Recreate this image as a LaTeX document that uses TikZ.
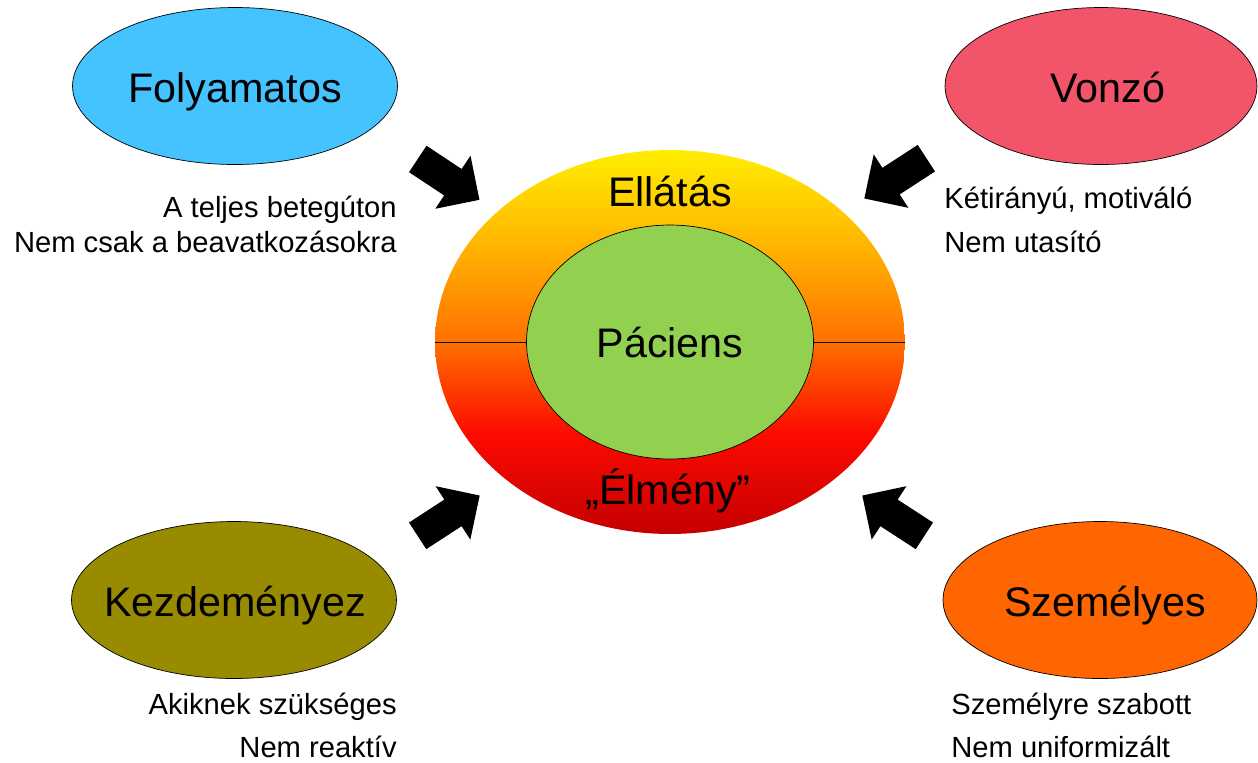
\documentclass[tikz,border=0pt]{standalone}
\usepackage{fontspec}
\setmainfont{Liberation Sans}
\usetikzlibrary{shapes.geometric,shapes.arrows,positioning}
\definecolor{folyblue}{RGB}{69,195,255}
\definecolor{vonzred}{RGB}{242,85,105}
\definecolor{kezdolive}{RGB}{153,139,0}
\definecolor{szemorange}{RGB}{255,102,0}
\definecolor{pacgreen}{RGB}{146,208,80}
\definecolor{ellyellow}{RGB}{255,238,0}
\definecolor{ellamber}{RGB}{255,178,0}
\definecolor{ellorange}{RGB}{255,112,0}
\definecolor{ellred}{RGB}{252,10,0}
\definecolor{elldark}{RGB}{196,0,0}
\pgfdeclareverticalshading{ellgrad}{100bp}{color(0bp)=(elldark); color(25bp)=(elldark); color(38bp)=(ellred); color(50bp)=(ellorange); color(62bp)=(ellamber); color(75bp)=(ellyellow); color(100bp)=(ellyellow)}
\tikzset{%
	bubble/.style   = {draw, ellipse, minimum width = 6.5cm, minimum height = 3.14cm, inner sep = 0pt}, % outer ellipses
	bigtext/.style  = {inner sep = 0pt, font = \fontsize{23.5}{26}\selectfont},
	note/.style     = {inner sep = 0pt, font = \fontsize{16.6}{19}\selectfont},
	bigarrow/.style = {single arrow, fill = black, inner xsep = 0pt, inner ysep = 0.31cm, minimum width = 0pt, minimum height = 1.48cm, single arrow head extend = 0.32cm, single arrow head indent = 0pt},
}

\begin{document}
\begin{tikzpicture}[x = 0.02cm, y = -0.02cm]
		\useasboundingbox (0,0) rectangle (1258,762);
		% center
		\node[ellipse, shade, shading = ellgrad, minimum width = 9.4cm, minimum height = 7.68cm] (ellatas) at (670,342) {};
		\draw (ellatas.west) -- (ellatas.east);
		\node[ellipse, draw, fill = pacgreen, minimum width = 5.74cm, minimum height = 4.68cm, font = \fontsize{23.5}{26}\selectfont] (paciens) at (670,342) {Páciens};
		\node[bigtext, anchor = base] (ellatastext) at (670,206) {Ellátás};
		\node[bigtext, anchor = base] (elmeny) at (668,504) {„Élmény”};
		% corners
		\node[bubble, fill = folyblue] (foly) at (235,86) {};
		\node[bubble, fill = vonzred, minimum width = 6.24cm] (vonz) at (1101,86) {};
		\node[bubble, fill = kezdolive] (kezd) at (234,600) {};
		\node[bubble, fill = szemorange, minimum width = 6.28cm] (szem) at (1100,600) {};
		\node[bigtext, anchor = base] (folytext) at (235,102) {Folyamatos};
		\node[bigtext, anchor = base] (vonztext) at (1108,102) {Vonzó};
		\node[bigtext, anchor = base] (kezdtext) at (235,616) {Kezdeményez};
		\node[bigtext, anchor = base] (szemtext) at (1105,616) {Személyes};
		% notes
		\node[note, anchor = base east] (foly1) at (397,217) {A teljes betegúton};
		\node[note, anchor = base east] (foly2) at (397,252) {Nem csak a beavatkozásokra};
		\node[note, anchor = base west] (vonz1) at (944,208) {Kétirányú, motiváló};
		\node[note, anchor = base west] (vonz2) at (944,252) {Nem utasító};
		\node[note, anchor = base east] (kezd1) at (397,714) {Akiknek szükséges};
		\node[note, anchor = base east] (kezd2) at (397,757) {Nem reaktív};
		\node[note, anchor = base west] (szem1) at (951,714) {Személyre szabott};
		\node[note, anchor = base west] (szem2) at (951,757) {Nem uniformizált};
		% arrows
		\node[bigarrow, rotate = -33.5] (arrfoly) at (442,175) {};
		\node[bigarrow, rotate = -147] (arrvonz) at (902,174) {};
		\node[bigarrow, rotate = 33] (arrkezd) at (442,520) {};
		\node[bigarrow, rotate = 147] (arrszem) at (900,520) {};
		\end{tikzpicture}
\end{document}
